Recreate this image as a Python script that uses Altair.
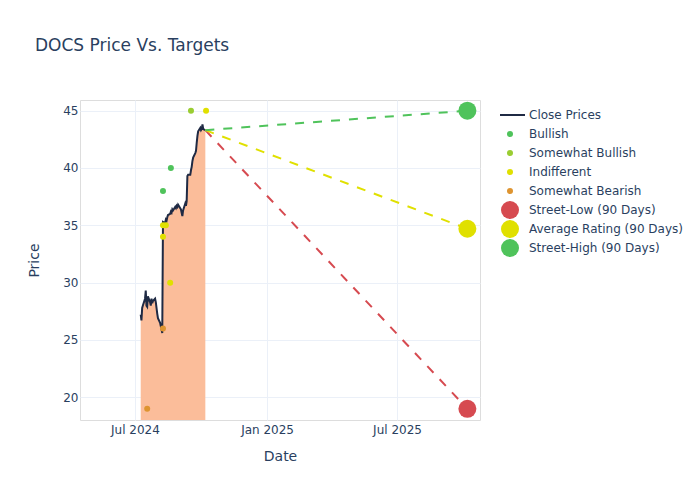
import altair as alt
import pandas as pd

# ---- data ----
price_dates = pd.bdate_range("2024-07-09", "2024-10-07", freq="C", holidays=["2024-09-02"])
price_values = [27.2, 26.7, 27.8, 28.0, 28.6, 29.3, 28.0, 27.9, 28.8, 28.3,
                28.0, 28.6, 28.2, 28.4, 28.6, 28.3, 27.8, 27.3, 26.9, 26.5,
                26.2, 25.9, 25.6, 35.3, 35.2, 35.5, 35.4, 35.7, 35.9, 36.0,
                36.2, 36.1, 36.4, 36.3, 36.6, 36.5, 36.7, 36.6, 36.8, 36.4,
                36.1, 35.8, 36.3, 36.9, 36.7, 37.1, 39.3, 39.4, 39.4, 39.8,
                40.1, 40.6, 40.9, 41.3, 41.5, 42.2, 42.8, 43.2, 43.5, 43.3,
                43.4, 43.8, 43.4, 43.3]

rating_dates = ["2024-07-18", "2024-08-09", "2024-08-09", "2024-08-09", "2024-08-13",
                "2024-08-09", "2024-08-19", "2024-08-20", "2024-09-17", "2024-10-08"]
rating_values = [19, 26, 34, 35, 35, 38, 30, 40, 45, 45]
rating_labels = ["Somewhat Bearish", "Somewhat Bearish", "Indifferent", "Indifferent", "Indifferent",
                 "Bullish", "Indifferent", "Bullish", "Somewhat Bullish", "Indifferent"]

target_date = "2025-10-07"
target_labels = ["Street-Low (90 Days)", "Average Rating (90 Days)", "Street-High (90 Days)"]
target_values = [19.0, 34.7, 45.0]

series_order = ["Close Prices", "Bullish", "Somewhat Bullish", "Indifferent", "Somewhat Bearish",
                "Street-Low (90 Days)", "Average Rating (90 Days)", "Street-High (90 Days)"]
series_colors = ["#1f2a44", "#4fc35b", "#9acd32", "#e0e000", "#de9430",
                 "#d64a50", "#e0e000", "#4fc35b"]

# ---- tables ----
price_df = pd.DataFrame({"date": price_dates, "price": price_values})
points_df = pd.DataFrame({
    "date": pd.to_datetime(rating_dates + [target_date] * 3),
    "value": rating_values + target_values,
    "series": rating_labels + target_labels,
})
last_date = price_dates[-1]
last_close = price_values[-1]
rows = []
for lab, val in zip(target_labels, target_values):
    rows.append({"date": last_date, "value": last_close, "series": lab})
    rows.append({"date": pd.Timestamp(target_date), "value": val, "series": lab})
dash_df = pd.DataFrame(rows)

FONT = "DejaVu Sans"
TXT = "#2a3f5f"
GRID = "#ebf0f8"

x_scale = alt.Scale(domain=[alt.DateTime(year=2024, month=4, date=15, hours=10),
                            alt.DateTime(year=2025, month=10, date=24, hours=14)])
y_scale = alt.Scale(domain=[18.02, 45.93], nice=False, zero=False)

x_axis = alt.Axis(values=[alt.DateTime(year=2024, month=7, date=1),
                          alt.DateTime(year=2025, month=1, date=1),
                          alt.DateTime(year=2025, month=7, date=1)],
                  format="%b %Y", title="Date", domain=False, ticks=False, tickSize=0,
                  labelPadding=4, gridColor=GRID, labelFont=FONT, labelFontSize=12,
                  labelColor=TXT, titleFont=FONT, titleFontSize=14, titleColor=TXT,
                  titleFontWeight="normal", titleX=200, titleY=36, titleBaseline="middle")
y_axis = alt.Axis(values=[20, 25, 30, 35, 40, 45], title="Price", domain=False, ticks=False,
                  tickSize=0, labelPadding=2, gridColor=GRID, labelFont=FONT, labelFontSize=12,
                  labelColor=TXT, titleFont=FONT, titleFontSize=14, titleColor=TXT,
                  titleFontWeight="normal", titleX=-46, titleY=160, titleAngle=-90,
                  titleAlign="center", titleBaseline="middle")

area = alt.Chart(price_df).mark_area(color="#fbbd9a", opacity=1, clip=True).encode(
    x=alt.X("date:T", scale=x_scale, axis=x_axis),
    y=alt.Y("price:Q", scale=y_scale, axis=y_axis),
    y2=alt.datum(0),
)
line = alt.Chart(price_df).mark_line(color="#1f2a44", strokeWidth=2).encode(
    x="date:T", y="price:Q"
)
dashes = alt.Chart(dash_df).mark_line(strokeDash=[9, 9], strokeWidth=2).encode(
    x="date:T", y="value:Q",
    color=alt.Color("series:N", scale=alt.Scale(domain=target_labels,
                                                range=["#d64a50", "#e0e000", "#4fc35b"]),
                    legend=None),
    detail="series:N",
)

legend = alt.Legend(title=None, orient="none", legendX=420, legendY=5.5, padding=0,
                    labelFont=FONT, labelFontSize=12, labelColor=TXT, labelOffset=9,
                    symbolStrokeWidth=2, symbolOpacity=1, gridAlign="each", rowPadding=0,
                    clipHeight=19)
LINE_PATH = "M-3,0H3"
pts = alt.Chart(points_df).mark_point(filled=True, opacity=1, strokeWidth=0).encode(
    x="date:T", y="value:Q",
    fill=alt.Fill("series:N", scale=alt.Scale(domain=series_order, range=series_colors),
                  legend=legend),
    stroke=alt.Stroke("series:N", scale=alt.Scale(domain=series_order,
                                                  range=["#1f2a44"] + ["transparent"] * 7),
                      legend=legend),
    shape=alt.Shape("series:N", scale=alt.Scale(domain=series_order,
                                                range=[LINE_PATH] + ["circle"] * 7),
                    legend=legend),
    size=alt.Size("series:N", scale=alt.Scale(type="ordinal", domain=series_order,
                                              range=[100, 36, 36, 36, 36, 324, 324, 324]),
                  legend=legend),
)

chart = alt.layer(area, line, dashes, pts).properties(
    width=400, height=320,
    title=alt.Title("DOCS Price Vs. Targets", anchor="start", frame="group", dx=-45,
                    offset=32, baseline="alphabetic", font=FONT, fontSize=17,
                    fontWeight="normal", color=TXT),
    autosize=alt.AutoSizeParams(type="none"),
    padding={"left": 72, "top": 92, "right": 212, "bottom": 72},
).configure_view(stroke=None).configure(background="white")

chart.save("out.html", embed_options={"renderer": "svg", "actions": False})
